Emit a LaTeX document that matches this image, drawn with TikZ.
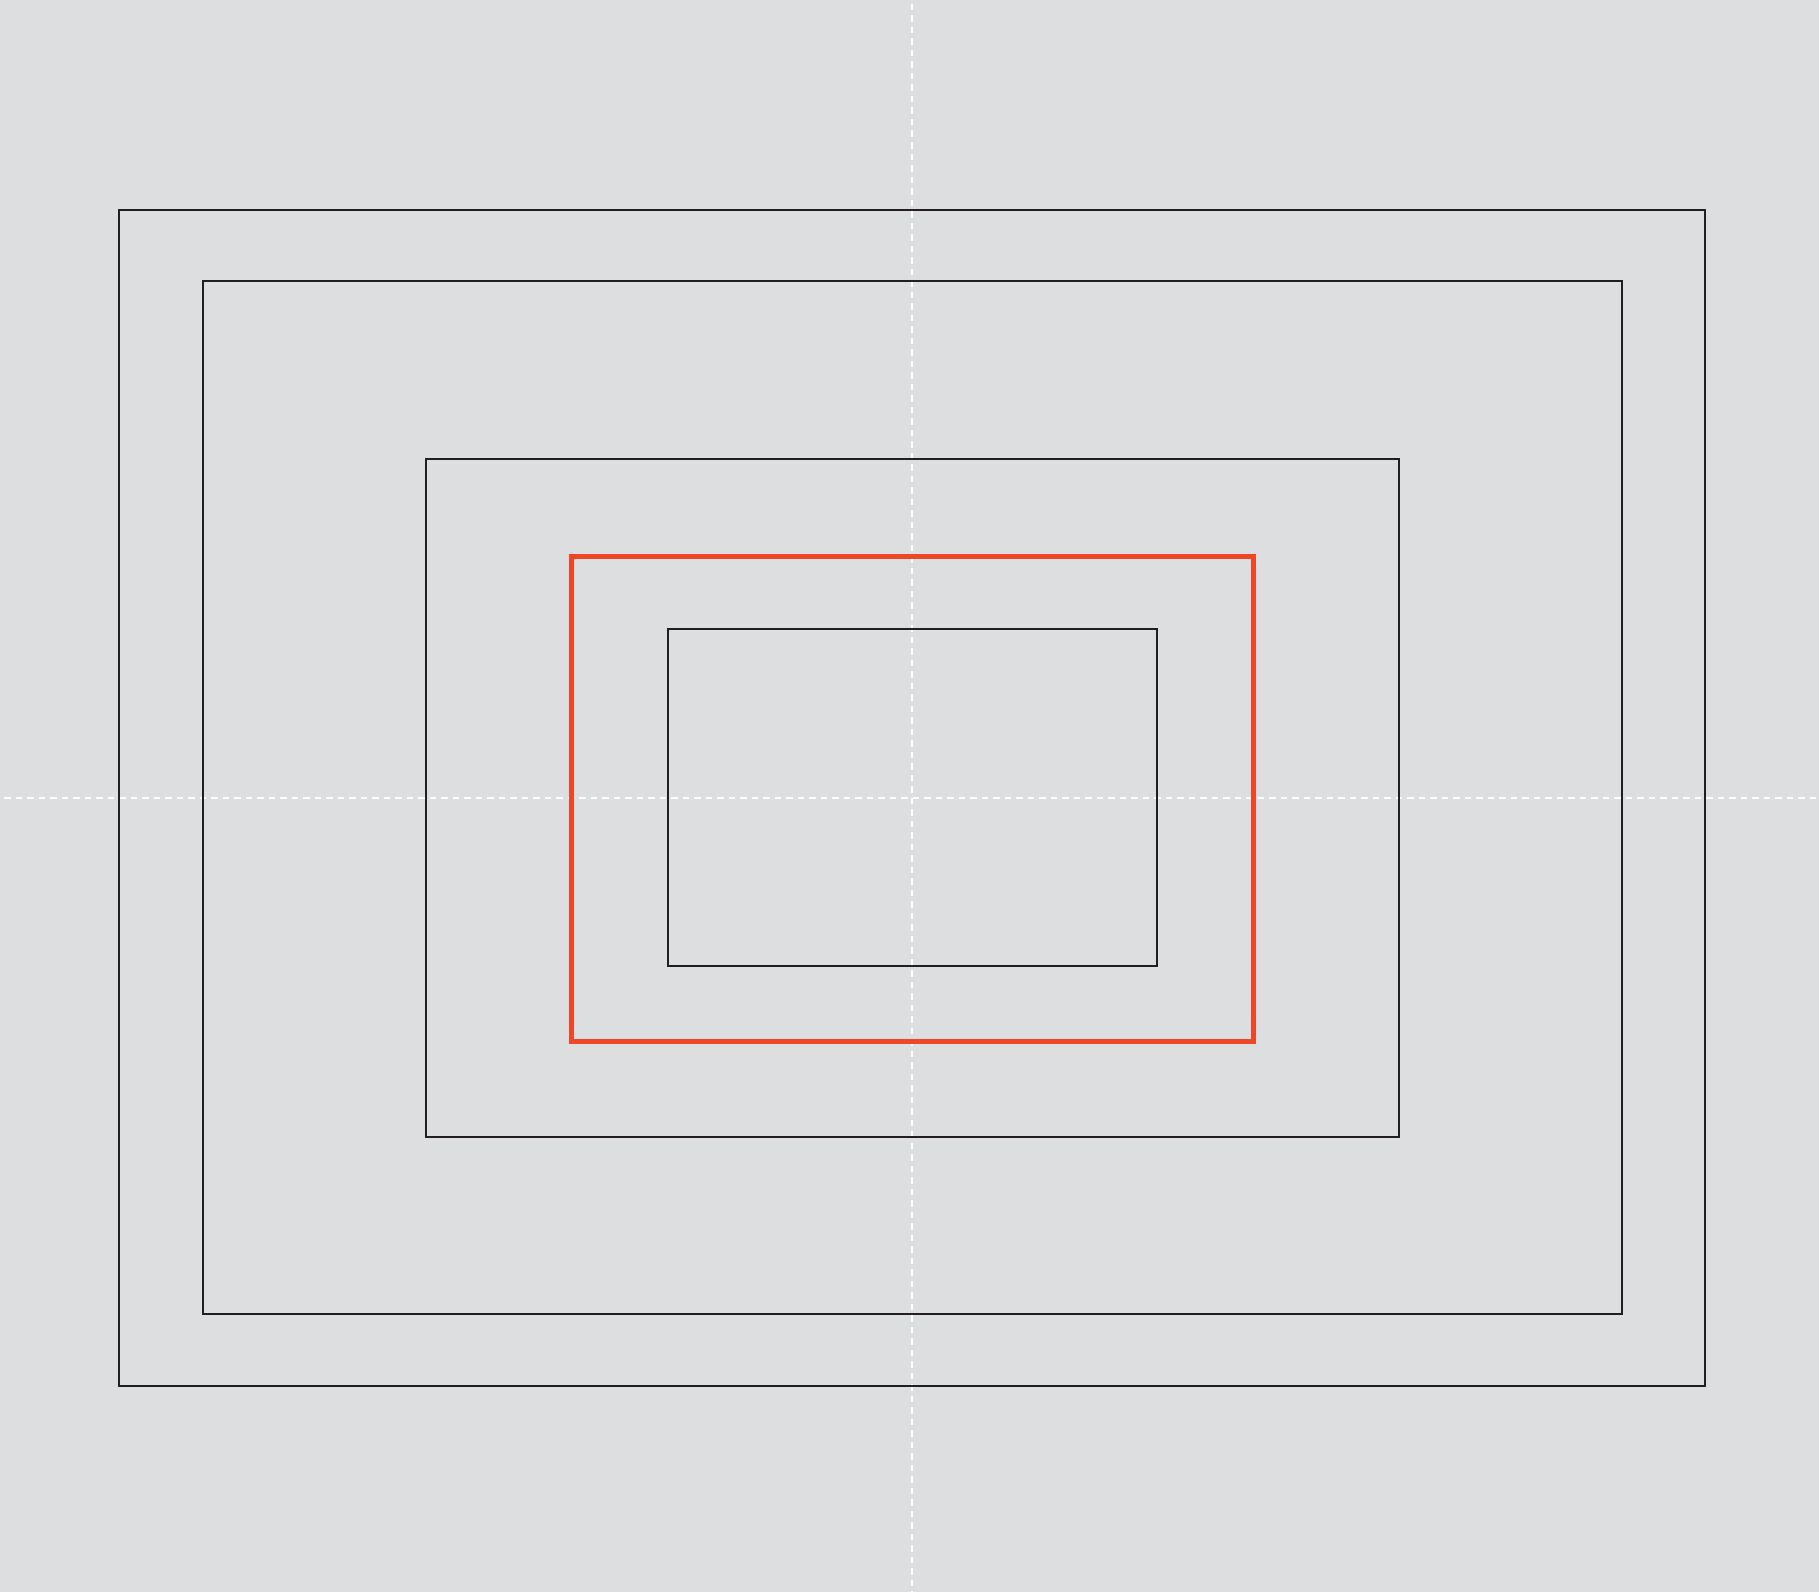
\documentclass[tikz,border=0pt]{standalone}
\usepackage{xcolor}
\usepackage{tikz}
\definecolor{paneground}{RGB}{221, 222, 224}
\definecolor{frameink}{RGB}{35, 31, 32}
\definecolor{signalred}{RGB}{240, 70, 40}

\tikzset{
    frame/.style={draw=frameink, line width=2pt},
    activeframe/.style={draw=signalred, line width=5pt},
    centreline/.style={draw=white, line width=1.5pt, dash pattern=on 6.5pt off 5pt}
}

\begin{document}
\begin{tikzpicture}[x=1pt, y=-1pt]
    % Background
    \fill[paneground] (0, 0) rectangle (1819, 1592);
    \useasboundingbox (0, 0) rectangle (1819, 1592);

    % Centre lines
    \draw[centreline] (912, 4) -- (912, 1592);
    \draw[centreline] (4, 798) -- (1819, 798);

    % Nested frames
    \draw[frame] (119, 210) rectangle (1705, 1386);
    \draw[frame] (203, 281) rectangle (1622, 1314);
    \draw[frame] (426, 459) rectangle (1399, 1137);
    \draw[activeframe] (571, 556) rectangle (1253, 1041);
    \draw[frame] (668, 629) rectangle (1157, 966);
\end{tikzpicture}
\end{document}
